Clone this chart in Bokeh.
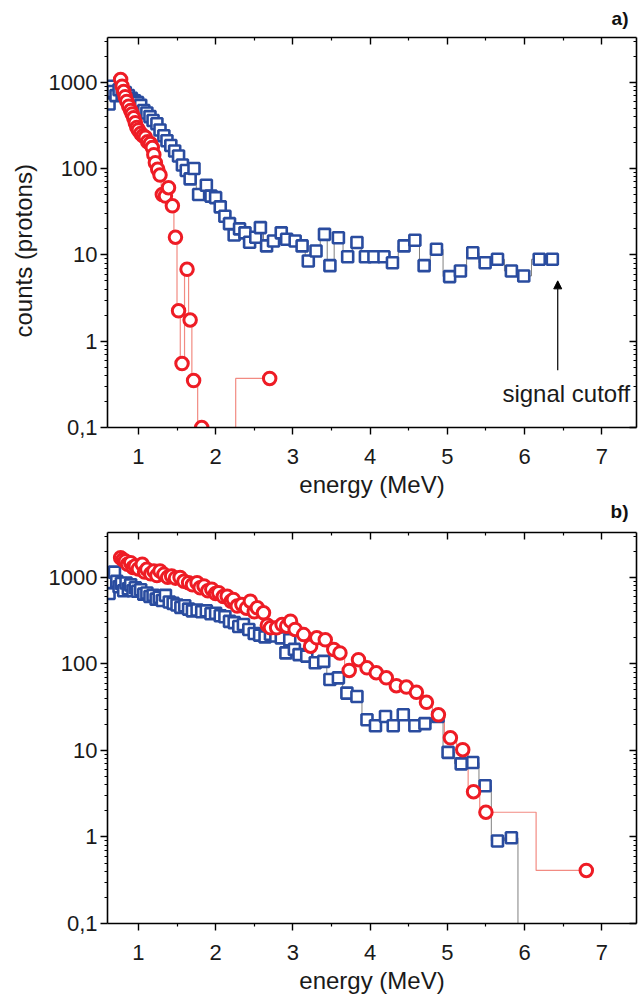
from bokeh.plotting import figure
from bokeh.models import (Range1d, LinearAxis, LogAxis, FixedTicker, Label, Arrow,
                          NormalHead, BasicTickFormatter, Title)
from bokeh.layouts import column
from bokeh.embed import file_html
from bokeh.resources import INLINE

# ---------------- data ----------------
# panel a) blue squares
E_a_blue = [0.62, 0.64, 0.67, 0.71, 0.75, 0.79, 0.83, 0.87, 0.91, 0.95, 0.99, 1.03, 1.07, 1.11,
            1.15, 1.19, 1.24, 1.28, 1.33, 1.37, 1.42, 1.47, 1.52, 1.57, 1.62, 1.67, 1.72, 1.78,
            1.88, 1.94, 2.00, 2.06, 2.12, 2.18, 2.24, 2.31, 2.38, 2.44, 2.52, 2.58, 2.66, 2.75,
            2.85, 2.92, 3.03, 3.12, 3.20, 3.30, 3.41, 3.48, 3.59, 3.71, 3.83, 3.94, 4.05, 4.18,
            4.29, 4.44, 4.58, 4.70, 4.86, 5.03, 5.17, 5.33, 5.49, 5.65, 5.83, 5.99, 6.19, 6.36]
C_a_blue = [560, 900, 780, 700, 820, 720, 760, 700, 650, 610, 580, 540, 470, 440,
            400, 360, 330, 280, 240, 210, 185, 160, 140, 110, 95, 76, 100, 50,
            64, 48, 46, 36, 28, 23, 17, 20, 18, 14, 16, 20.7, 12.7, 14.5,
            18, 15.2, 14.5, 12.7, 8.5, 11.1, 17.3, 7.5, 15.8, 9.5, 13.9, 9.5, 9.5, 9.5,
            8.1, 12.7, 14.8, 7.5, 11.6, 5.6, 6.5, 10.6, 8.1, 8.9, 6.5, 5.7, 8.9, 8.9]

# panel a) red circles
E_a_red = [0.77, 0.79, 0.81, 0.83, 0.85, 0.875, 0.90, 0.92, 0.94, 0.96, 0.98, 1.00, 1.03, 1.06,
           1.09, 1.12, 1.155, 1.18, 1.20, 1.22, 1.25, 1.28, 1.31, 1.35, 1.39, 1.44, 1.48, 1.52,
           1.565, 1.63, 1.67, 1.715, 1.82, 2.70]
C_a_red = [1075, 900, 780, 680, 600, 528, 470, 430, 387, 339, 300, 280, 255, 240,
           230, 205, 195, 175, 145, 117, 98, 84, 50, 48, 60, 37, 16, 2.25,
           0.55, 6.8, 1.76, 0.35, 0.1, 0.37]

# panel b) blue squares (last bin: no counts)
E_b_blue = [0.62, 0.64, 0.66, 0.69, 0.72, 0.75, 0.78, 0.81, 0.84, 0.87, 0.90, 0.93, 0.96, 0.99,
            1.03, 1.07, 1.11, 1.15, 1.19, 1.23, 1.27, 1.31, 1.35, 1.40, 1.45, 1.50, 1.55, 1.60,
            1.65, 1.70, 1.76, 1.82, 1.88, 1.94, 2.00, 2.06, 2.12, 2.18, 2.24, 2.30, 2.36, 2.43,
            2.50, 2.57, 2.64, 2.71, 2.78, 2.85, 2.91, 2.96, 3.02, 3.08, 3.18, 3.29, 3.40, 3.48,
            3.59, 3.70, 3.83, 3.96, 4.07, 4.20, 4.30, 4.43, 4.58, 4.71, 4.88, 5.01, 5.18, 5.33,
            5.49, 5.65, 5.83, 6.00]
C_b_blue = [650, 1050, 870, 1150, 900, 780, 850, 700, 860, 740, 820, 700, 760, 690,
            720, 640, 660, 600, 620, 560, 590, 540, 620, 520, 500, 480, 450, 470,
            430, 410, 420, 400, 410, 380, 385, 360, 350, 310, 300, 270, 285, 250,
            225, 215, 205, 220, 210, 200, 134, 190, 147, 128, 123, 103, 107, 66,
            69, 46, 42, 22.6, 19.3, 24.7, 19.3, 25.8, 19.3, 20.4, 24.7, 9.5, 7.0, 7.25,
            3.9, 0.9, 0.98, 0.01]

# panel b) red circles
E_b_red = [0.77, 0.80, 0.83, 0.86, 0.90, 0.93, 0.96, 1.00, 1.05, 1.08, 1.11, 1.16, 1.20, 1.24,
           1.28, 1.33, 1.38, 1.43, 1.48, 1.54, 1.59, 1.65, 1.70, 1.76, 1.80, 1.85, 1.90, 1.95,
           2.00, 2.04, 2.10, 2.15, 2.20, 2.23, 2.28, 2.34, 2.40, 2.45, 2.50, 2.54, 2.62, 2.67,
           2.71, 2.79, 2.86, 2.92, 2.97, 3.03, 3.14, 3.23, 3.31, 3.42, 3.53, 3.61, 3.73, 3.85,
           3.96, 4.08, 4.21, 4.34, 4.47, 4.60, 4.73, 4.885, 5.04, 5.20, 5.34, 5.50, 6.80]
C_b_red = [1690, 1600, 1545, 1420, 1480, 1300, 1352, 1250, 1414, 1150, 1238, 1100, 1183, 1050,
           1183, 1083, 1000, 1035, 980, 997, 900, 867, 820, 867, 760, 793, 700, 727,
           650, 665, 600, 607, 530, 556, 466, 486, 440, 531, 400, 445, 389, 280,
           261, 261, 285, 273, 312, 250, 218, 160, 200, 190, 147, 134, 84, 112,
           90, 79, 69, 56, 54, 47, 36, 25.8, 14, 10.2, 3.34, 1.93, 0.41]

x_tick_values = [1, 2, 3, 4, 5, 6, 7]
x_minor_ticks = [0.5, 1.5, 2.5, 3.5, 4.5, 5.5, 6.5, 7.5]
y_tick_values = [0.1, 1, 10, 100, 1000]
y_tick_labels = ["0,1", "1", "10", "100", "1000"]
y_minor_ticks = [m * 10.0 ** k for k in range(-1, 4) for m in range(2, 10)]

x_label = "energy (MeV)"
y_label = "counts (protons)"
panel_tags = ["a)", "b)"]
cutoff_text = "signal cutoff"
cutoff_x = 6.43
cutoff_arrow_from = 0.46
cutoff_arrow_to = 5.0

X_RANGE = (0.6, 7.45)
Y_RANGE = (0.1, 3300)

FONT = "Liberation Sans"
BLUE = "#2a4c9f"
RED = "#ee1c25"
BLUE_LINE = "#808080"
RED_LINE = "#f28b82"
TEXT = "#1a1a1a"


def style_axis(ax, outer):
    ax.axis_line_color = "black"
    ax.axis_line_width = 1.6
    ax.major_tick_line_color = "black"
    ax.minor_tick_line_color = "black"
    ax.major_tick_line_width = 1.4
    ax.minor_tick_line_width = 1.2
    ax.major_label_text_font = FONT
    ax.major_label_text_font_size = "22px"
    ax.major_label_text_color = TEXT
    ax.axis_label_text_font = FONT
    ax.axis_label_text_font_size = "24px"
    ax.axis_label_text_font_style = "normal"
    ax.axis_label_text_color = TEXT
    if outer:
        ax.major_tick_out = 7
        ax.major_tick_in = 0
        ax.minor_tick_out = 3
        ax.minor_tick_in = 0
    else:
        ax.major_tick_out = 0
        ax.major_tick_in = 7
        ax.minor_tick_out = 0
        ax.minor_tick_in = 3
        ax.major_label_text_font_size = "0px"
        ax.major_label_text_alpha = 0


def tag_title(text, standoff):
    return Title(text=text, align="right", offset=8, vertical_align="top",
                 text_font=FONT, text_font_size="19px", text_font_style="bold",
                 text_color="#111111", standoff=standoff)


def make_panel(height, b_top, b_bottom, with_ylabel, eb, cb, er, cr):
    p = figure(width=640, height=height, output_backend="svg", toolbar_location=None,
               y_axis_type="log", x_range=Range1d(*X_RANGE), y_range=Range1d(*Y_RANGE),
               min_border_left=107, min_border_right=4,
               min_border_top=b_top, min_border_bottom=b_bottom)
    p.grid.visible = False
    p.outline_line_color = None
    p.background_fill_color = "white"
    p.border_fill_color = "white"
    p.title = None

    xt = FixedTicker(ticks=x_tick_values, minor_ticks=x_minor_ticks)
    yt = FixedTicker(ticks=y_tick_values, minor_ticks=y_minor_ticks)

    xa = p.xaxis[0]
    xa.ticker = xt
    xa.axis_label = x_label
    style_axis(xa, True)
    xa.major_label_standoff = 14
    xa.axis_label_standoff = 4

    ya = p.yaxis[0]
    ya.ticker = yt
    ya.formatter = BasicTickFormatter()
    ya.major_label_overrides = dict(zip(y_tick_values, y_tick_labels))
    style_axis(ya, True)
    ya.major_label_standoff = 3
    if with_ylabel:
        p.add_layout(Title(text=y_label, align="left", offset=90, vertical_align="middle",
                           text_font=FONT, text_font_size="24px", text_font_style="normal",
                           text_color=TEXT, standoff=16), "left")

    top = LinearAxis(ticker=FixedTicker(ticks=x_tick_values, minor_ticks=x_minor_ticks))
    style_axis(top, False)
    p.add_layout(top, "above")
    right = LogAxis(ticker=FixedTicker(ticks=y_tick_values, minor_ticks=y_minor_ticks))
    style_axis(right, False)
    p.add_layout(right, "right")

    p.step(eb, cb, mode="center", line_color=BLUE_LINE, line_width=1)
    p.step(er, cr, mode="center", line_color=RED_LINE, line_width=1.2)
    p.scatter(eb, cb, marker="square", size=11, line_width=2.6, line_color=BLUE,
              fill_color="white")
    p.scatter(er, cr, marker="circle", size=12.5, line_width=3, line_color=RED,
              fill_color="white")
    return p


# top panel is 524 px tall (frame 36..427); its bottom strip carries the "b)" tag
p1 = make_panel(524, 36, 97, True, E_a_blue, C_a_blue, E_a_red, C_a_red)
p2 = make_panel(477, 8, 78, False, E_b_blue, C_b_blue, E_b_red, C_b_red)

p1.add_layout(tag_title(panel_tags[0], 14), "above")
p1.add_layout(tag_title(panel_tags[1], 0), "below")

p1.add_layout(Arrow(end=NormalHead(size=8, fill_color="black", line_color="black", line_width=1),
                    x_start=cutoff_x, y_start=cutoff_arrow_from, x_end=cutoff_x,
                    y_end=cutoff_arrow_to, line_color="black", line_width=1.2))
p1.add_layout(Label(x=6.54, y=0.25, text=cutoff_text, text_font=FONT, text_font_size="24px",
                    text_align="center", text_baseline="middle", text_color=TEXT))

layout = column(p1, p2, spacing=0)
open("out.html", "w").write(file_html(layout, INLINE))
